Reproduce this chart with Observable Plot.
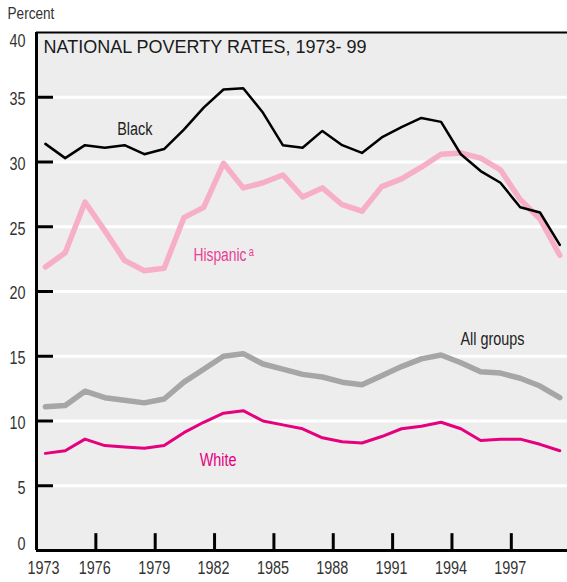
<!DOCTYPE html>
<html>
<head>
<meta charset="utf-8">
<script src="https://cdn.jsdelivr.net/npm/d3@7"></script>
<script src="https://cdn.jsdelivr.net/npm/@observablehq/plot@0.6"></script>
<style>
  html, body { margin: 0; padding: 0; background: #fff; overflow: hidden; }
  #chart svg { display: block; }
</style>
</head>
<body>
<div id="chart"></div>
<script>
const years = [1973,1974,1975,1976,1977,1978,1979,1980,1981,1982,1983,1984,1985,1986,1987,1988,1989,1990,1991,1992,1993,1994,1995,1996,1997,1998,1999];
const black =     [31.4,30.3,31.3,31.1,31.3,30.6,31.0,32.5,34.2,35.6,35.7,33.8,31.3,31.1,32.4,31.3,30.7,31.9,32.7,33.4,33.1,30.6,29.3,28.4,26.5,26.1,23.6];
const hispanic =  [21.9,23.0,26.9,24.7,22.4,21.6,21.8,25.7,26.5,29.9,28.0,28.4,29.0,27.3,28.0,26.7,26.2,28.1,28.7,29.6,30.6,30.7,30.3,29.4,27.1,25.6,22.8];
const allGroups = [11.1,11.2,12.3,11.8,11.6,11.4,11.7,13.0,14.0,15.0,15.2,14.4,14.0,13.6,13.4,13.0,12.8,13.5,14.2,14.8,15.1,14.5,13.8,13.7,13.3,12.7,11.8];
const white =     [7.5,7.7,8.6,8.1,8.0,7.9,8.1,9.1,9.9,10.6,10.8,10.0,9.7,9.4,8.7,8.4,8.3,8.8,9.4,9.6,9.9,9.4,8.5,8.6,8.6,8.2,7.7];
const xTicks = [1976,1979,1982,1985,1988,1991,1994,1997];
const xLabels = [1973,1976,1979,1982,1985,1988,1991,1994,1997];
const yTicks = [5,10,15,20,25,30,35];
const yLabels = [0,5,10,15,20,25,30,35,40];
const title = "NATIONAL POVERTY RATES, 1973- 99";
const yTitle = "Percent";
const hispanicNote = "a";

const midYear = 0.45;
const series = (vals) => years.map((y, i) => ({year: y + midYear, value: vals[i]}));

const sans = "'Liberation Sans', Arial, sans-serif";
const tickColor = "#333";

const chart = Plot.plot({
  width: 567,
  height: 582,
  marginLeft: 36,
  marginRight: 0,
  marginTop: 32,
  marginBottom: 32,
  x: {domain: [1973, 1999.84], axis: null},
  y: {domain: [0, 40], axis: null},
  style: {fontFamily: sans, background: "#fff"},
  marks: [
    Plot.frame({fill: "#ededed", stroke: null}),
    Plot.ruleY(yTicks, {stroke: "#fff", strokeWidth: 3}),
    // lines
    Plot.line(series(allGroups), {x: "year", y: "value", stroke: "#a6a6a6", strokeWidth: 5.5}),
    Plot.line(series(white), {x: "year", y: "value", stroke: "#e5007e", strokeWidth: 3}),
    Plot.line(series(hispanic), {x: "year", y: "value", stroke: "#f7aec8", strokeWidth: 5.5}),
    Plot.line(series(black), {x: "year", y: "value", stroke: "#000", strokeWidth: 2.5}),
    // frame lines
    Plot.ruleY([40], {stroke: "#000", strokeWidth: 2}),
    Plot.ruleX([1973], {stroke: "#000", strokeWidth: 3}),
    Plot.ruleY([0], {stroke: "#000", strokeWidth: 3}),
    // ticks (inward)
    Plot.ruleY(yTicks, {x1: 1973, x2: 1973.86, stroke: "#000", strokeWidth: 3}),
    Plot.ruleX(xTicks, {y1: 0, y2: 1.3, stroke: "#000", strokeWidth: 3}),
    // y tick labels
    Plot.text(yLabels.filter(d => d > 0 && d < 40), {x: 1973, y: d => d, text: d => String(d), dx: -11, dy: 2, textAnchor: "end", fontSize: 18, fill: tickColor, className: "narrow"}),
    Plot.text([40], {x: 1973, y: d => d, text: d => String(d), dx: -11, dy: 9, textAnchor: "end", fontSize: 18, fill: tickColor, className: "narrow"}),
    Plot.text([0], {x: 1973, y: d => d, text: d => String(d), dx: -11, dy: -6, textAnchor: "end", fontSize: 18, fill: tickColor, className: "narrow"}),
    // x tick labels
    Plot.text(xLabels.filter(d => d !== 1973), {x: d => d, y: 0, text: d => String(d), dx: -1, dy: 17.5, fontSize: 18, fill: tickColor, className: "narrow"}),
    Plot.text([1973], {x: d => d, y: 0, text: d => String(d), dx: 7, dy: 17.5, fontSize: 18, fill: tickColor, className: "narrow"}),
    // axis title
    Plot.text([yTitle], {frameAnchor: "top-left", lineAnchor: "middle", text: d => d, dx: -29, dy: -19, textAnchor: "start", fontSize: 17, fill: tickColor, className: "narrow"}),
    // chart title
    Plot.text([title], {frameAnchor: "top-left", lineAnchor: "middle", text: d => d, dx: 7, dy: 15, textAnchor: "start", fontSize: 18, fill: "#1a1a1a"}),
    // series labels
    Plot.text(["Black"], {x: () => 1977.97, y: () => 32.55, text: d => d, fontSize: 18, fill: "#222", className: "narrow"}),
    Plot.text(["Hispanic"], {x: () => 1980.93, y: () => 22.78, text: d => d, textAnchor: "start", fontSize: 18, fill: "#eb3f93", className: "narrow hisp"}),
    Plot.text(["All groups"], {x: () => 1994.43, y: () => 16.33, text: d => d, textAnchor: "start", fontSize: 18, fill: "#222", className: "narrow"}),
    Plot.text(["White"], {x: () => 1982.18, y: () => 6.95, text: d => d, fontSize: 18, fill: "#e5007e", className: "narrow"})
  ]
});
document.getElementById("chart").appendChild(chart);
// superscript footnote marker on the Hispanic label
chart.querySelectorAll("g.hisp text").forEach(t => {
  const base = t.textContent;
  t.textContent = "";
  const main = document.createElementNS("http://www.w3.org/2000/svg", "tspan");
  main.textContent = base;
  t.appendChild(main);
  const sup = document.createElementNS("http://www.w3.org/2000/svg", "tspan");
  sup.textContent = hispanicNote;
  sup.setAttribute("font-size", "12");
  sup.setAttribute("dx", "3");
  sup.setAttribute("dy", "-5");
  t.appendChild(sup);
});
// condense the label font horizontally (reference uses a condensed face)
chart.querySelectorAll("g.narrow text").forEach(t => {
  const w = t.getComputedTextLength();
  t.setAttribute("textLength", (w * 0.8).toFixed(2));
  t.setAttribute("lengthAdjust", "spacingAndGlyphs");
});
</script>
</body>
</html>
